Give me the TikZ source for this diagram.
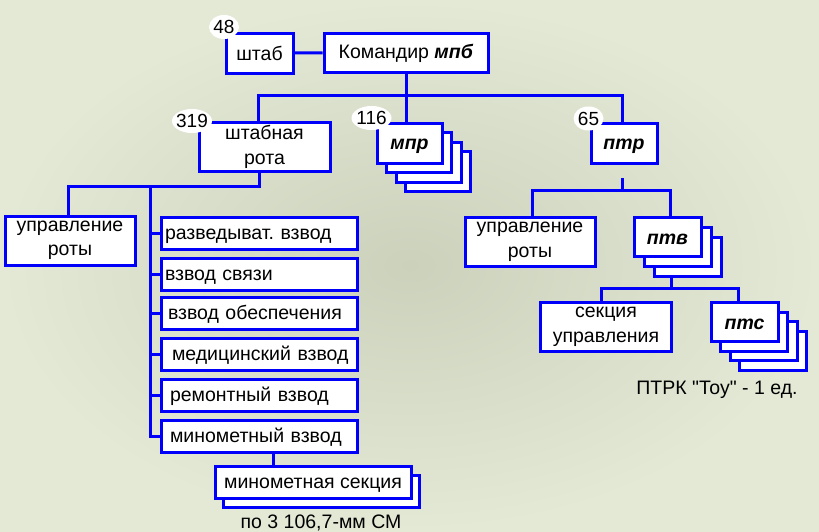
\documentclass[tikz,border=0pt]{standalone}
\usepackage{fontspec}
\setmainfont{Liberation Sans}[Ligatures=TeXOff]
\definecolor{bgdark}{RGB}{203,209,187}
\definecolor{bglight}{RGB}{227,233,213}
\definecolor{lineblue}{RGB}{0,0,250}
\newcommand\strutht{18.5pt}
\newcommand\strutdp{2pt}
\newcommand\lnstrut{\rule[-\strutdp]{0pt}{\strutht}}
\tikzset{
    RA1/.style ={rectangle, draw=lineblue, fill=white, line width=3pt, inner sep=0pt, align=center,
        font=\fontsize{19.5}{24.5}\selectfont\frenchspacing,
        execute at begin node=\lnstrut, execute at end node=\lnstrut},
    TL1/.style ={RA1, /utils/exec={\def\strutht{16pt}\def\strutdp{4.5pt}}},
    RA2/.style ={RA1, minimum width=66pt, minimum height=40pt, font=\fontsize{19.5}{24.5}\selectfont\bfseries\itshape},
    RA3/.style ={RA1, minimum width=196pt, minimum height=32pt, text width=190pt, align=left},
    EL1/.style ={inner sep=0pt, font=\fontsize{19}{20}\selectfont},
    LN1/.style ={draw=lineblue, line width=3pt}
}

\begin{document}
\begin{tikzpicture}[x=1pt,y=-1pt]
        \useasboundingbox (0,0) rectangle (819,531);
        \shade[inner color=bgdark, outer color=bglight] (0,0) rectangle (819,531);
        % upper level
        \node[RA1, minimum width=67pt, minimum height=40pt] (shtab) at (259.5,53) {штаб};
        \node[RA1, minimum width=164pt, minimum height=39pt] (kom) at (406,52.5) {Командир \textbf{\textit{мпб}}};
        \node[TL1, minimum width=131pt, minimum height=49pt] (shrota) at (264.5,147) {штабная\\рота};
        \foreach \k in {3,2,1}
            \node[RA2, minimum width=65pt] (mprB\k) at (409.5+\k*9.5,143+\k*9.5) {};
        \node[RA2, minimum width=65pt] (mpr) at (409.5,143) {мпр};
        \node[RA2] (ptr) at (624,143) {птр};
        % anti-tank company
        \node[TL1, minimum width=130pt, minimum height=49pt] (upr2) at (530,242) {управление\\роты};
        \foreach \k in {2,1}
            \node[RA2, minimum width=67pt, minimum height=39pt] (ptvB\k) at (667.5+\k*10,237+\k*10) {};
        \node[RA2, minimum width=67pt, minimum height=39pt] (ptv) at (667.5,237) {птв};
        \node[TL1, minimum width=131pt, minimum height=49pt] (sek) at (606,327) {секция\\управления};
        \foreach \k in {3,2,1}
            \node[RA2, minimum width=67pt, minimum height=39pt] (ptsB\k) at (744.5+\k*9.5,322+\k*9.5) {};
        \node[RA2, minimum width=67pt, minimum height=39pt] (pts) at (744.5,322) {птс};
        \node[font=\fontsize{19.5}{24}\selectfont, anchor=base] (ptrk) at (717,394) {ПТРК "Тоу" - 1 ед.};
        % HQ company
        \node[TL1, minimum width=130pt, minimum height=49pt] (upr1) at (70,240.5) {управление\\роты};
        \foreach \i/\y/\dx/\txt in {1/233.2/1/разведыват. взвод, 2/274.2/1/взвод связи, 3/313.3/4/взвод обеспечения,
            4/354.5/8/медицинский взвод, 5/395.3/6/ремонтный взвод, 6/436.3/6/минометный взвод}
            \node[RA3] (v\i) at (259,\y) {\hspace*{\dx pt}\txt};
        \node[RA1, minimum width=196pt, minimum height=32pt] (minsekB) at (321.5,491) {};
        \node[RA1, minimum width=196pt, minimum height=32pt] (minsek) at (313,482.5) {минометная секция};
        \node[font=\fontsize{19.5}{24}\selectfont, anchor=base, inner ysep=0pt] (minsm) at (321,528) {по 3 106,7-мм СМ};
        % connectors
        \coordinate (b1) at (258.5,95);
        \coordinate (b2) at (622.7,95);
        \coordinate (p0) at (622.7,178);
        \coordinate (p1) at (532.7,190.7);
        \coordinate (p2) at (670,190.7);
        \coordinate (q0) at (671.7,277);
        \coordinate (q1) at (601.7,288.3);
        \coordinate (q2) at (738.3,288.3);
        \coordinate (s0) at (259,186.7);
        \coordinate (s1) at (68.3,186.7);
        \coordinate (t0) at (150.7,186.7);
        \draw[LN1] (shtab) -- (kom);
        \draw[LN1] (kom.south) -- (kom.south |- mpr.north);
        \draw[LN1] (b1 |- shrota.north) -- (b1) -- (b2) -- (b2 |- ptr.north);
        \draw[LN1] (p0) -- (p0 |- p1);
        \draw[LN1] (p1 |- upr2.north) -- (p1) -- (p2) -- (p2 |- ptv.north);
        \draw[LN1] (q0) -- (q0 |- q1);
        \draw[LN1] (q1 |- sek.north) -- (q1) -- (q2) -- (q2 |- pts.north);
        \draw[LN1] (s0 |- shrota.south) -- (s0) -- (s1) -- (s1 |- upr1.north);
        \draw[LN1] (t0) -- (t0 |- v6.west) -- (v6.west);
        \foreach \i in {1,...,5}
            \draw[LN1] (t0 |- v\i.west) -- (v\i.west);
        \draw[LN1] (v6.south -| 273.3,0) -- (minsek.north -| 273.3,0);
        % strength numbers
        \foreach \nm/\x/\y/\rx in {48/224/27/15, 319/192/121/20, 116/371.5/118/20, 65/588.5/118.5/15} {
            \fill[white] (\x,\y) ellipse [x radius=\rx pt, y radius=12pt];
            \node[EL1] (n\nm) at (\x,\y) {\nm};
        }
    \end{tikzpicture}
\end{document}
